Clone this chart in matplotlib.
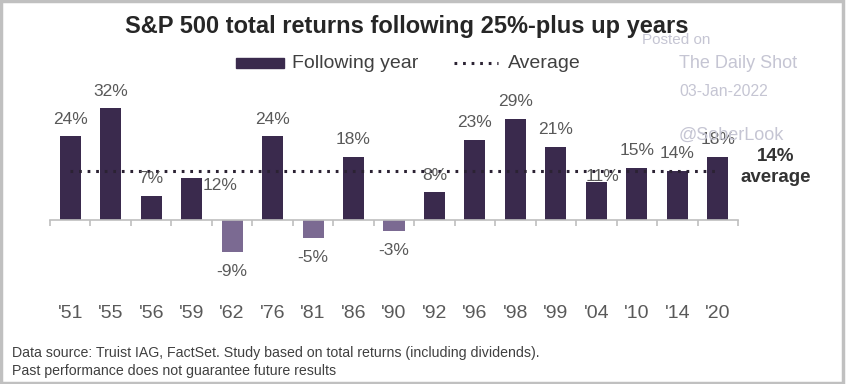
import numpy as np
import matplotlib
matplotlib.use("Agg")
import matplotlib.pyplot as plt
from matplotlib.patches import Rectangle
from matplotlib.lines import Line2D

plt.rcParams['font.family'] = ['Liberation Sans', 'DejaVu Sans']

# data
years = ["'51", "'55", "'56", "'59", "'62", "'76", "'81", "'86", "'90",
         "'92", "'96", "'98", "'99", "'04", "'10", "'14", "'20"]
returns = [24, 32, 7, 12, -9, 24, -5, 18, -3, 8, 23, 29, 21, 11, 15, 14, 18]
avg = np.mean(returns)

# label offsets in pixels (a few are shifted in the original)
label_shift = {"'59": (28, -7), "'04": (6, 5)}

pos_color = '#3a2a4d'
neg_color = '#7b6a92'
txt_gray = '#595959'

fig = plt.figure(figsize=(8.46, 3.84), dpi=100)
W, H = 846, 384

# axes placed so zero line sits at y=220px, 3.5px per %
ymin, ymax = -12, 34
y0 = 220
bottom_px = y0 + (-ymin) * 3.5
top_px = y0 - ymax * 3.5
ax = fig.add_axes([50 / W, (H - bottom_px) / H, 688 / W, (bottom_px - top_px) / H])
ax.set_xlim(-0.5, len(years) - 0.5)
ax.set_ylim(ymin, ymax)

x = np.arange(len(years))
colors = [pos_color if r >= 0 else neg_color for r in returns]
ax.bar(x, returns, width=0.52, color=colors, zorder=2)

# average line
ax.plot([x[0], x[-1]], [avg, avg], color='#2b2233', lw=2.2,
        linestyle=(0, (0.9, 1.9)), zorder=3)

# value labels
for xi, yr, r in zip(x, years, returns):
    dx, dy = label_shift.get(yr, (0, 17 if r >= 0 else -20))
    ax.annotate(f"{r}%", (xi, r), xytext=(dx, dy), textcoords='offset pixels',
                ha='center', va='center', fontsize=12.5, color=txt_gray, zorder=4)

# axis styling
for s in ['top', 'right', 'left']:
    ax.spines[s].set_visible(False)
ax.spines['bottom'].set_position(('data', 0))
ax.spines['bottom'].set_color('#bfbfbf')
ax.spines['bottom'].set_linewidth(1.2)
ax.set_yticks([])
ax.set_xticks(x)
ax.set_xticklabels(years, fontsize=14, color=txt_gray)
ax.tick_params(axis='x', which='major', length=0, pad=61)
ax.set_xticks(np.arange(len(years) + 1) - 0.5, minor=True)
ax.tick_params(axis='x', which='minor', length=4, width=1.2, color='#bfbfbf', direction='out')

# title
fig.text(407 / W, 1 - 26 / H, "S&P 500 total returns following 25%-plus up years",
         ha='center', va='center', fontsize=17, fontweight='bold', color='#262626')

# legend (drawn by hand to match layout)
fig.patches.append(Rectangle((236 / W, 1 - 68 / H), 48 / W, 10 / H,
                             transform=fig.transFigure, color=pos_color))
fig.text(292 / W, 1 - 63 / H, "Following year", ha='left', va='center',
         fontsize=14, color='#404040')
fig.lines.append(Line2D([454 / W, 498 / W], [1 - 63 / H, 1 - 63 / H],
                        transform=fig.transFigure, color='#2b2233', lw=2.2,
                        linestyle=(0, (0.9, 1.9))))
fig.text(508 / W, 1 - 63 / H, "Average", ha='left', va='center',
         fontsize=14, color='#404040')

# average annotation
fig.text(776 / W, 1 - 167 / H, f"{avg:.0f}%\naverage", ha='center', va='center',
         fontsize=13.5, fontweight='bold', color='#333333', linespacing=1.25)

# watermark
wm = '#c5c5d3'
fig.text(642 / W, 1 - 40 / H, "Posted on", ha='left', va='center', fontsize=11, color=wm)
fig.text(679 / W, 1 - 63 / H, "The Daily Shot", ha='left', va='center', fontsize=13, color=wm)
fig.text(679 / W, 1 - 91 / H, "03-Jan-2022", ha='left', va='center', fontsize=11.3, color=wm)
fig.text(679 / W, 1 - 135 / H, "@SoberLook", ha='left', va='center', fontsize=13, color=wm,
         zorder=0)

# footer
fig.text(12 / W, 1 - 353 / H,
         "Data source: Truist IAG, FactSet. Study based on total returns (including dividends).",
         ha='left', va='center', fontsize=10.2, color='#404040')
fig.text(12 / W, 1 - 371 / H, "Past performance does not guarantee future results",
         ha='left', va='center', fontsize=10.2, color='#404040')

# outer frame
fig.patches.append(Rectangle((0.001, 0.002), 0.996, 0.996, transform=fig.transFigure,
                             fill=False, edgecolor='#c0c0c0', lw=2.5))

fig.savefig('out.png', dpi=100)
